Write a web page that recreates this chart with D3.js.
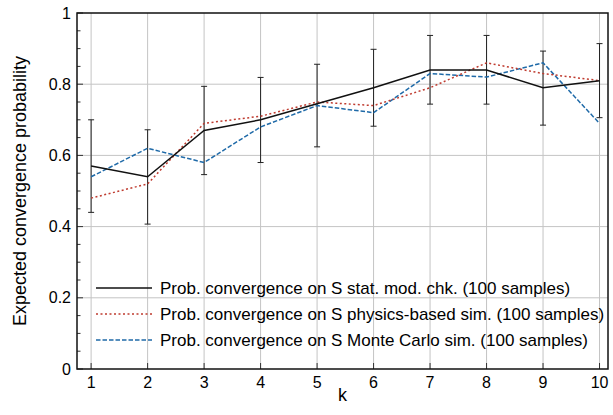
<!DOCTYPE html>
<html>
<head>
<meta charset="utf-8">
<script src="https://cdn.jsdelivr.net/npm/d3@7"></script>
<style>
  body { margin: 0; background: #fff; }
  svg { display: block; font-family: "Liberation Sans", Arial, sans-serif; }
</style>
</head>
<body>
<div class="js-chart"></div>
<script>
// Values
const ks = [1, 2, 3, 4, 5, 6, 7, 8, 9, 10];
const statModChk = [0.57, 0.54, 0.67, 0.70, 0.745, 0.79, 0.84, 0.84, 0.79, 0.81];
const errLow = [0.44, 0.407, 0.546, 0.58, 0.624, 0.682, 0.744, 0.744, 0.685, 0.706];
const errHigh = [0.70, 0.672, 0.794, 0.819, 0.856, 0.898, 0.937, 0.937, 0.893, 0.914];
const physicsSim = [0.48, 0.52, 0.69, 0.71, 0.75, 0.74, 0.79, 0.86, 0.83, 0.81];
const monteCarloSim = [0.54, 0.62, 0.58, 0.68, 0.74, 0.72, 0.83, 0.82, 0.86, 0.69];
const yTicks = [0, 0.2, 0.4, 0.6, 0.8, 1];
const legendLabels = [
  "Prob. convergence on S stat. mod. chk. (100 samples)",
  "Prob. convergence on S physics-based sim. (100 samples)",
  "Prob. convergence on S Monte Carlo sim. (100 samples)"
];

const width = 613, height = 415;
const margin = {top: 13, right: 5, bottom: 46, left: 77};

const svg = d3.select(".js-chart").append("svg")
  .attr("width", width).attr("height", height);

const x = d3.scaleLinear().domain([0.75, 10.15]).range([margin.left, width - margin.right]);
const y = d3.scaleLinear().domain([0, 1]).range([height - margin.bottom, margin.top]);

// grid
svg.append("g").selectAll("line").data(ks).join("line")
  .attr("x1", d => x(d)).attr("x2", d => x(d))
  .attr("y1", y(0)).attr("y2", y(1))
  .attr("stroke", "#c4c4c4").attr("stroke-width", 1);
svg.append("g").selectAll("line").data(yTicks.slice(1, -1)).join("line")
  .attr("x1", x.range()[0]).attr("x2", x.range()[1])
  .attr("y1", d => y(d)).attr("y2", d => y(d))
  .attr("stroke", "#c4c4c4").attr("stroke-width", 1);

// minor ticks on y, inward
const minor = d3.range(0, 1.0001, 0.05);
svg.append("g").selectAll("line").data(minor).join("line")
  .attr("x1", x.range()[0]).attr("x2", d => x.range()[0] + (Math.round(d * 20) % 4 === 0 ? 6 : 3.5))
  .attr("y1", d => y(d)).attr("y2", d => y(d))
  .attr("stroke", "#333").attr("stroke-width", 1);
// x ticks inward
svg.append("g").selectAll("line").data(ks).join("line")
  .attr("x1", d => x(d)).attr("x2", d => x(d))
  .attr("y1", y(0)).attr("y2", y(0) - 6)
  .attr("stroke", "#333").attr("stroke-width", 1);

// tick labels
svg.append("g").selectAll("text").data(yTicks).join("text")
  .attr("x", x.range()[0] - 6).attr("y", d => y(d)).attr("dy", "0.35em")
  .attr("text-anchor", "end").attr("font-size", 16).text(d => d3.format("")(d));
svg.append("g").selectAll("text").data(ks).join("text")
  .attr("x", d => x(d)).attr("y", y(0) + 13).attr("dy", "0.35em")
  .attr("text-anchor", "middle").attr("font-size", 16).text(d => d);

// axis titles
svg.append("text")
  .attr("x", (x.range()[0] + x.range()[1]) / 2).attr("y", height - 14)
  .attr("text-anchor", "middle").attr("font-size", 18).text("k");
svg.append("text")
  .attr("transform", "translate(20," + ((y(0) + y(1)) / 2) + ") rotate(-90)")
  .attr("dy", "0.35em")
  .attr("text-anchor", "middle").attr("font-size", 18).text("Expected convergence probability");

// series
const series = [
  {vals: statModChk, color: "#111", dash: null, w: 1.5},
  {vals: physicsSim, color: "#bf3b2f", dash: "2,2.5", w: 1.5},
  {vals: monteCarloSim, color: "#1f6aa8", dash: "4.5,2", w: 1.5}
];
const line = d3.line().x((d, i) => x(ks[i])).y(d => y(d));

// error bars
const eb = svg.append("g").attr("stroke", "#222").attr("stroke-width", 1);
ks.forEach(function (k, i) {
  eb.append("line").attr("x1", x(k)).attr("x2", x(k)).attr("y1", y(errLow[i])).attr("y2", y(errHigh[i]));
  [errLow[i], errHigh[i]].forEach(function (v) {
    eb.append("line").attr("x1", x(k) - 3).attr("x2", x(k) + 3).attr("y1", y(v)).attr("y2", y(v));
  });
});

series.slice().reverse().forEach(function (s) {
  svg.append("path").datum(s.vals).attr("d", line)
    .attr("fill", "none").attr("stroke", s.color).attr("stroke-width", s.w)
    .attr("stroke-dasharray", s.dash);
});

// legend
const lg = svg.append("g");
series.forEach(function (s, i) {
  const ly = 288 + i * 26;
  lg.append("line").attr("x1", 96).attr("x2", 152).attr("y1", ly).attr("y2", ly)
    .attr("stroke", s.color).attr("stroke-width", s.w).attr("stroke-dasharray", s.dash);
  lg.append("text").attr("x", 160).attr("y", ly).attr("dy", "0.35em")
    .attr("font-size", 17).text(legendLabels[i]);
});

// frame
svg.append("rect")
  .attr("x", x.range()[0]).attr("y", y(1))
  .attr("width", x.range()[1] - x.range()[0]).attr("height", y(0) - y(1))
  .attr("fill", "none").attr("stroke", "#111").attr("stroke-width", 1.5);
</script>
</body>
</html>
